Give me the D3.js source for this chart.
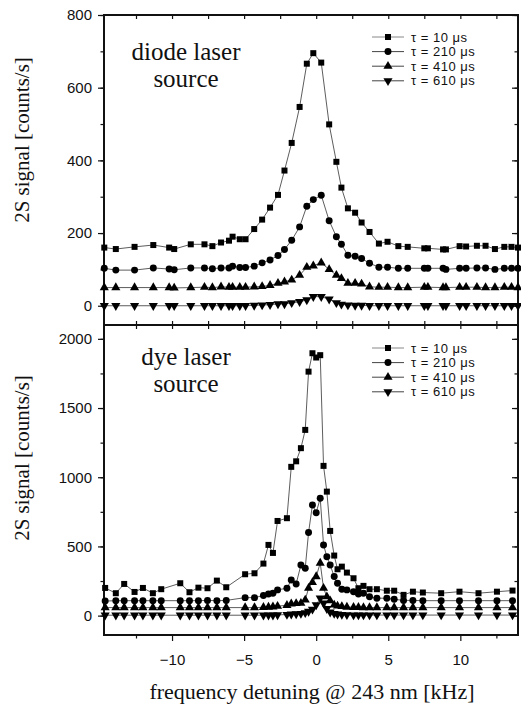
<!DOCTYPE html>
<html>
<head>
<meta charset="utf-8">
<script src="https://cdn.jsdelivr.net/npm/d3@7"></script>
<style>
  body { margin: 0; background: #fff; }
  svg { display: block; }
  .tick text { font-family: "Liberation Sans", Arial, sans-serif; font-size: 15px; fill: #111; }
  .serif { font-family: "Liberation Serif", "Times New Roman", serif; fill: #111; }
  .legend text { font-family: "Liberation Sans", Arial, sans-serif; font-size: 13px; letter-spacing: 0.5px; fill: #111; }
</style>
</head>
<body>
<div id="chart"></div>
<script>
// two stacked panels: diode laser source (top) and dye laser source (bottom)

const width = 521,
    height = 706,
    margin = ({ left: 104, right: 3 });

const xDomain = [-14.72, 14.0];
const xTicks = [-10, -5, 0, 5, 10];
const legendLabels = ["τ = 10 μs", "τ = 210 μs", "τ = 410 μs", "τ = 610 μs"];

// diode laser panel
const diodeDetuning = [-14.7, -13.9, -12.6, -11.3, -10.2, -9.85, -8.7, -7.75, -7.2, -6.6, -6.05, -5.8,
  -5.3, -4.9, -4.3, -3.75, -3.2, -2.65, -2.2, -1.7, -1.15, -0.65, -0.2, 0.35, 0.9, 1.4, 1.75, 2.2,
  2.7, 3.15, 3.7, 4.35, 4.95, 5.7, 6.35, 7.5, 7.75, 8.8, 9.0, 9.95, 10.4, 11.15, 11.75, 12.4, 13.05,
  13.55, 14.0];
const diodeTau10 = [160, 156, 162, 167, 160, 156, 169, 169, 164, 174, 179, 190, 183, 183, 211, 237,
  270, 305, 372, 448, 547, 666, 695, 669, 499, 396, 325, 268, 256, 229, 203, 171, 176, 164, 162,
  158, 158, 155, 155, 164, 163, 165, 165, 156, 162, 162, 160];
const diodeTau210 = [103, 98, 98, 104, 101, 99, 104, 104, 102, 104, 104, 109, 105, 105, 109, 118,
  126, 138, 155, 180, 217, 274, 292, 304, 234, 190, 169, 139, 136, 130, 117, 106, 106, 103, 103,
  103, 103, 103, 100, 103, 103, 104, 104, 100, 103, 103, 103];
const diodeTau410 = [50, 50, 50, 50, 50, 49, 50, 51, 50, 52, 51, 51, 51, 51, 52, 53, 56, 62, 66, 71,
  84, 106, 110, 118, 100, 84, 75, 62, 62, 60, 52, 51, 51, 50, 50, 51, 51, 50, 50, 51, 51, 51, 50,
  50, 51, 51, 50];
const diodeTau610 = [0, 0, 0, 0, 0, 0, 0, 0, 0, 0, 0, 0, 0, 0, 1, 2, 3, 5, 5, 8, 11, 16, 25, 25, 18,
  8, 4, 2, 1, 1, 0, 0, 0, 0, 0, 0, 0, 0, 0, 0, 0, 0, 0, 0, 0, 0, 0];
const diodeYDomain = [-53, 800];
const diodeYTicks = [0, 200, 400, 600, 800];

// dye laser panel
const dyeDetuning = [-14.64, -13.9, -13.32, -12.6, -12.02, -11.33, -10.75, -9.43, -8.79, -8.17,
  -7.54, -6.89, -6.24, -4.93, -4.28, -3.66, -3.31, -3.0, -2.68, -2.03, -1.73, -1.39, -1.06, -0.76,
  -0.53, -0.26, 0, 0.28, 0.51, 0.74, 0.97, 1.25, 1.48, 1.78, 2.13, 2.59, 2.93, 3.28, 3.7, 4.21, 4.9,
  5.41, 6.06, 6.71, 7.4, 8.67, 9.94, 11.26, 12.54, 13.62];
const dyeTau10 = [200, 162, 229, 171, 200, 162, 191, 234, 169, 202, 198, 253, 205, 299, 306, 376,
  511, 453, 684, 704, 1075, 1115, 1210, 1342, 1763, 1896, 1865, 1882, 1082, 896, 612, 434, 335, 354,
  311, 270, 198, 215, 191, 191, 180, 180, 150, 173, 167, 162, 173, 162, 173, 181];
const dyeTau210 = [105, 108, 108, 108, 108, 108, 108, 108, 108, 108, 110, 108, 110, 130, 130, 145,
  157, 162, 186, 198, 258, 229, 366, 342, 600, 800, 744, 848, 511, 426, 366, 282, 234, 191, 186, 173,
  157, 162, 137, 126, 126, 118, 110, 110, 108, 108, 108, 108, 108, 108];
const dyeTau410 = [58, 58, 58, 58, 58, 58, 58, 58, 58, 58, 58, 58, 58, 58, 58, 60, 62, 64, 68, 75,
  85, 88, 90, 113, 198, 240, 282, 380, 198, 137, 108, 77, 70, 66, 62, 60, 60, 58, 58, 58, 58, 58, 58,
  58, 58, 58, 58, 58, 58, 58];
const dyeTau610 = [3, 3, 3, 3, 3, 3, 3, 3, 3, 3, 3, 3, 3, 3, 3, 3, 3, 3, 5, 8, 10, 12, 15, 20, 30, 46,
  77, 126, 90, 50, 25, 15, 10, 8, 6, 4, 4, 4, 4, 4, 4, 4, 4, 4, 4, 4, 4, 4, 4, 4];
const dyeYDomain = [-140, 2100];
const dyeYTicks = [0, 500, 1000, 1500, 2000];

const svg = d3.select("#chart")
    .append("svg")
    .attr("width", width)
    .attr("height", height)
    .attr("viewBox", [0, 0, width, height]);

const x = d3.scaleLinear()
    .domain(xDomain)
    .range([margin.left, width - margin.right]);

// marker shapes, one per series
const shapes = [
  { type: d3.symbolSquare, size: 36, rotate: 0 },
  { type: d3.symbolCircle, size: 38, rotate: 0 },
  { type: d3.symbolTriangle, size: 36, rotate: 0 },
  { type: d3.symbolTriangle, size: 36, rotate: 180 }
];

const minorX = d3.range(-12.5, 14, 2.5);

function drawPanel(p) {
  const y = d3.scaleLinear()
      .domain(p.yDomain)
      .range([p.bottom, p.top]);
  const g = svg.append("g");

  // left axis, ticks outward
  g.append("g")
    .attr("transform", `translate(${margin.left},0)`)
    .call(d3.axisLeft(y).tickValues(p.yMinor).tickSize(3.5).tickFormat(""))
    .call(a => a.select(".domain").remove());
  g.append("g")
    .attr("transform", `translate(${margin.left},0)`)
    .call(d3.axisLeft(y).tickValues(p.yTicks).tickSize(6).tickPadding(6).tickFormat(d3.format("d")))
    .call(a => a.select(".domain").remove());

  // right side, ticks inward
  g.append("g")
    .attr("transform", `translate(${width - margin.right},0)`)
    .call(d3.axisLeft(y).tickValues(p.yMinor).tickSize(3.5).tickFormat(""))
    .call(a => a.select(".domain").remove());
  g.append("g")
    .attr("transform", `translate(${width - margin.right},0)`)
    .call(d3.axisLeft(y).tickValues(p.yTicks).tickSize(6).tickFormat(""))
    .call(a => a.select(".domain").remove());

  // top edge, ticks inward
  g.append("g")
    .attr("transform", `translate(0,${p.top})`)
    .call(d3.axisBottom(x).tickValues(minorX).tickSize(4).tickFormat(""))
    .call(a => a.select(".domain").remove());
  // bottom edge
  if (p.labels) {
    g.append("g")
      .attr("transform", `translate(0,${p.bottom})`)
      .call(d3.axisBottom(x).tickValues(minorX.filter(v => v % 5 !== 0)).tickSize(3.5).tickFormat(""))
      .call(a => a.select(".domain").remove());
    g.append("g")
      .attr("transform", `translate(0,${p.bottom})`)
      .call(d3.axisBottom(x).tickValues(xTicks).tickSize(6).tickPadding(13)
        .tickFormat(d => d < 0 ? "\u2212" + Math.abs(d) : d))
      .call(a => a.select(".domain").remove());
  } else {
    g.append("g")
      .attr("transform", `translate(0,${p.bottom})`)
      .call(d3.axisTop(x).tickValues(minorX).tickSize(4).tickFormat(""))
      .call(a => a.select(".domain").remove());
  }

  g.selectAll(".tick line").attr("stroke", "#111").attr("stroke-width", 1.2);

  // frame
  g.append("rect")
    .attr("x", margin.left)
    .attr("y", p.top)
    .attr("width", width - margin.right - margin.left)
    .attr("height", p.bottom - p.top)
    .attr("fill", "none")
    .attr("stroke", "#111")
    .attr("stroke-width", 2);

  // series
  const plot = g.append("g");
  p.series.forEach((vals, i) => {
    const pts = p.detuning.map((d, j) => [d, vals[j]]);
    plot.append("path")
      .datum(pts)
      .attr("d", d3.line().x(d => x(d[0])).y(d => y(d[1])))
      .attr("fill", "none")
      .attr("stroke", "#333")
      .attr("stroke-width", 0.8);
    const sym = d3.symbol().type(shapes[i].type).size(shapes[i].size);
    plot.selectAll(null)
      .data(pts)
      .join("path")
      .attr("d", sym)
      .attr("transform", d => `translate(${x(d[0])},${y(d[1])}) rotate(${shapes[i].rotate})`)
      .attr("fill", "#000");
  });

  // source label
  p.title.forEach((t, i) => {
    g.append("text")
      .attr("class", "serif")
      .attr("x", p.titleX)
      .attr("y", p.titleY + i * 27)
      .attr("text-anchor", "middle")
      .attr("font-size", 25)
      .text(t);
  });

  // legend
  const leg = g.append("g").attr("class", "legend");
  legendLabels.forEach((lab, i) => {
    const ly = p.legendY + i * 14.6;
    leg.append("line")
      .attr("x1", 372).attr("x2", 404)
      .attr("y1", ly).attr("y2", ly)
      .attr("stroke", i === 0 ? "#888" : "#444").attr("stroke-width", 1);
    leg.append("path")
      .attr("d", d3.symbol().type(shapes[i].type).size(shapes[i].size))
      .attr("transform", `translate(388,${ly}) rotate(${shapes[i].rotate})`)
      .attr("fill", "#000");
    leg.append("text")
      .attr("x", 411)
      .attr("y", ly)
      .attr("dy", "0.35em")
      .text(lab);
  });

  // y axis title
  svg.append("text")
    .attr("class", "serif")
    .attr("transform", `translate(29,${p.labelY}) rotate(-90)`)
    .attr("text-anchor", "middle")
    .attr("font-size", 21)
    .text("2S signal [counts/s]");
}

drawPanel({
  top: 15, bottom: 325,
  yDomain: diodeYDomain, yTicks: diodeYTicks, yMinor: d3.range(0, 801, 100),
  detuning: diodeDetuning,
  series: [diodeTau10, diodeTau210, diodeTau410, diodeTau610],
  title: ["diode laser", "source"], titleX: 186, titleY: 60,
  legendY: 37, labelY: 140, labels: false
});

drawPanel({
  top: 325, bottom: 635,
  yDomain: dyeYDomain, yTicks: dyeYTicks, yMinor: d3.range(0, 2001, 250),
  detuning: dyeDetuning,
  series: [dyeTau10, dyeTau210, dyeTau410, dyeTau610],
  title: ["dye laser", "source"], titleX: 186, titleY: 365,
  legendY: 348, labelY: 458, labels: true
});

svg.append("text")
  .attr("class", "serif")
  .attr("x", 312)
  .attr("y", 699)
  .attr("text-anchor", "middle")
  .attr("font-size", 22)
  .text("frequency detuning @ 243 nm [kHz]");
</script>
</body>
</html>
